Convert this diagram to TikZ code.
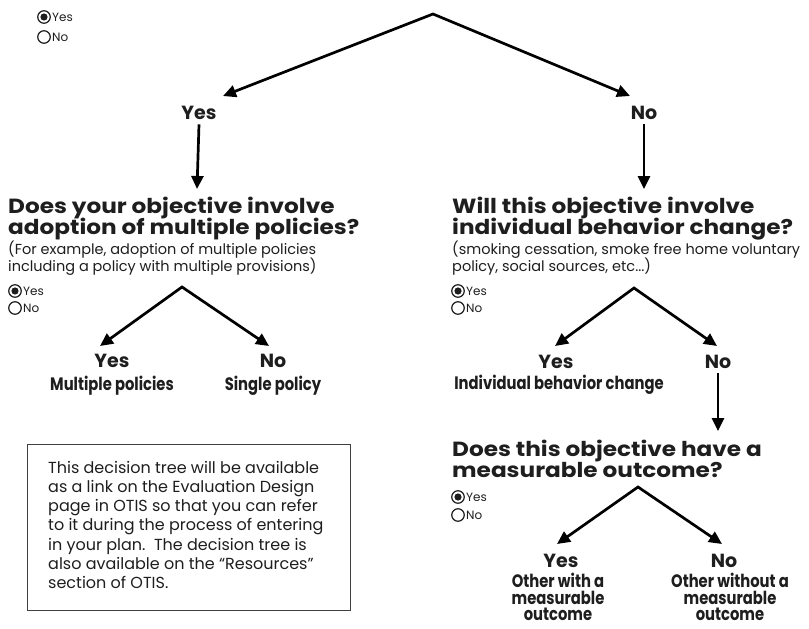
\documentclass[tikz,border=0pt]{standalone}
\usepackage{fontspec}
\setmainfont{Poppins}
\usetikzlibrary{arrows.meta}
\definecolor{ink}{HTML}{1E1E1E}
\newcommand{\wideq}[1]{\scalebox{1.13}[1]{#1}}
\newcommand{\narrowc}[1]{\scalebox{0.82}[1]{#1}}
\tikzset{
  qtext/.style={font=\bfseries\fontsize{20.5}{20}\selectfont, anchor=base west, inner sep=0pt, align=left, text=ink},
  subtext/.style={font=\fontsize{14.5}{17}\selectfont, anchor=base west, inner sep=0pt, align=left, text=ink},
  ans/.style={font=\bfseries\fontsize{19}{19}\selectfont, anchor=base, inner sep=0pt, text=ink},
  cond/.style={font=\bfseries\fontsize{18}{16.5}\selectfont, anchor=base, inner sep=0pt, align=center, text=ink},
  rtext/.style={font=\fontsize{12}{12}\selectfont, anchor=west, inner sep=0pt, text=ink},
  radio/.style={circle, draw=ink, line width=1.2pt, minimum size=12.5pt, inner sep=0pt},
  radioon/.style={radio, path picture={\fill[ink] (path picture bounding box.center) circle (3.6pt);}},
  arr/.style={line width=2.7pt, line join=miter, draw=black, -{Triangle[length=13pt,width=12pt]}},
  arr2/.style={line width=2.7pt, line join=miter, draw=black, {Triangle[length=13pt,width=12pt]}-{Triangle[length=13pt,width=12pt]}},
  infobox/.style={draw=ink!85, line width=1.4pt, anchor=north west, inner sep=0pt},
  infotext/.style={font=\fontsize{16}{19.2}\selectfont, anchor=north west, inner sep=0pt, align=left, text=ink}
}
\begin{document}
\begin{tikzpicture}[x=1pt,y=-1pt]
\useasboundingbox (0,0) rectangle (809,629);

% ---------- top radio ----------
\node[radioon] (r0y) at (44,17) {};
\node[rtext] (r0yt) at (52,17) {Yes};
\node[radio] (r0n) at (44,37) {};
\node[rtext] (r0nt) at (52,37) {No};

% ---------- top split ----------
\coordinate (a0) at (433,14);
\coordinate (t0l) at (223,96);
\coordinate (t0r) at (630,96);
\draw[arr2] (t0l) -- (a0) -- (t0r);
\node[ans] (y1) at (199,119) {Yes};
\node[ans] (n1) at (644,119) {No};
\coordinate (t1l) at (197,189);
\coordinate (t1r) at (644,189);
\draw[arr] ([yshift=-5pt]y1.south) -- (t1l);
\draw[arr] ([yshift=-5pt]n1.south) -- (t1r);

% ---------- left question ----------
\node[qtext] (q1a) at (8,213) {\wideq{Does your objective involve}};
\node[qtext] (q1b) at (8,234) {\wideq{adoption of multiple policies?}};
\node[subtext] (q1c) at (8,254) {(For example, adoption of multiple policies};
\node[subtext] (q1d) at (8,271) {including a policy with multiple provisions)};
\node[radioon] (r1y) at (15,291) {};
\node[rtext] (r1yt) at (23,291) {Yes};
\node[radio] (r1n) at (15,308) {};
\node[rtext] (r1nt) at (23,308) {No};

\coordinate (a1) at (182,287);
\coordinate (t2l) at (100,346);
\coordinate (t2r) at (269,346);
\draw[arr2] (t2l) -- (a1) -- (t2r);
\node[ans] (y2) at (112,367) {Yes};
\node[ans] (n2) at (273,367) {No};
\node[cond] (c2y) at (112,390) {\narrowc{Multiple policies}};
\node[cond] (c2n) at (273,390) {\narrowc{Single policy}};

% ---------- right question ----------
\node[qtext] (q2a) at (452,213) {\wideq{Will this objective involve}};
\node[qtext] (q2b) at (452,234) {\wideq{individual behavior change?}};
\node[subtext] (q2c) at (452,254) {(smoking cessation, smoke free home voluntary};
\node[subtext] (q2d) at (452,271) {policy, social sources, etc...)};
\node[radioon] (r2y) at (458,291) {};
\node[rtext] (r2yt) at (466,291) {Yes};
\node[radio] (r2n) at (458,308) {};
\node[rtext] (r2nt) at (466,308) {No};

\coordinate (a2) at (634,288);
\coordinate (t3l) at (555,346);
\coordinate (t3r) at (717,346);
\draw[arr2] (t3l) -- (a2) -- (t3r);
\node[ans] (y3) at (556,368) {Yes};
\node[ans] (n3) at (718,368) {No};
\node[cond] (c3y) at (559,389) {\narrowc{Individual behavior change}};
\coordinate (t4) at (718,431);
\draw[arr] ([yshift=-5pt]n3.south) -- (t4);

% ---------- third question ----------
\node[qtext] (q3a) at (452,456) {\wideq{Does this objective have a}};
\node[qtext] (q3b) at (452,477) {\wideq{measurable outcome?}};
\node[radioon] (r3y) at (458,497) {};
\node[rtext] (r3yt) at (466,497) {Yes};
\node[radio] (r3n) at (458,515) {};
\node[rtext] (r3nt) at (466,515) {No};

\coordinate (a3) at (638,487);
\coordinate (t5l) at (557,544);
\coordinate (t5r) at (722,544);
\draw[arr2] (t5l) -- (a3) -- (t5r);
\node[ans] (y4) at (561,567) {Yes};
\node[ans] (n4) at (724,567) {No};
\node[cond, anchor=north] (c4y) at (558,573) {\narrowc{Other with a}\\\narrowc{measurable}\\\narrowc{outcome}};
\node[cond, anchor=north] (c4n) at (730,573) {\narrowc{Other without a}\\\narrowc{measurable}\\\narrowc{outcome}};

% ---------- info box ----------
\node[infobox, minimum width=323pt, minimum height=166pt] (box) at (27,444) {};
\node[infotext] (boxt) at (48,461) {This decision tree will be available\\
as a link on the Evaluation Design\\
page in OTIS so that you can refer\\
to it during the process of entering\\
in your plan.\ \ The decision tree is\\
also available on the ``Resources''\\
section of OTIS.};
\end{tikzpicture}
\end{document}
